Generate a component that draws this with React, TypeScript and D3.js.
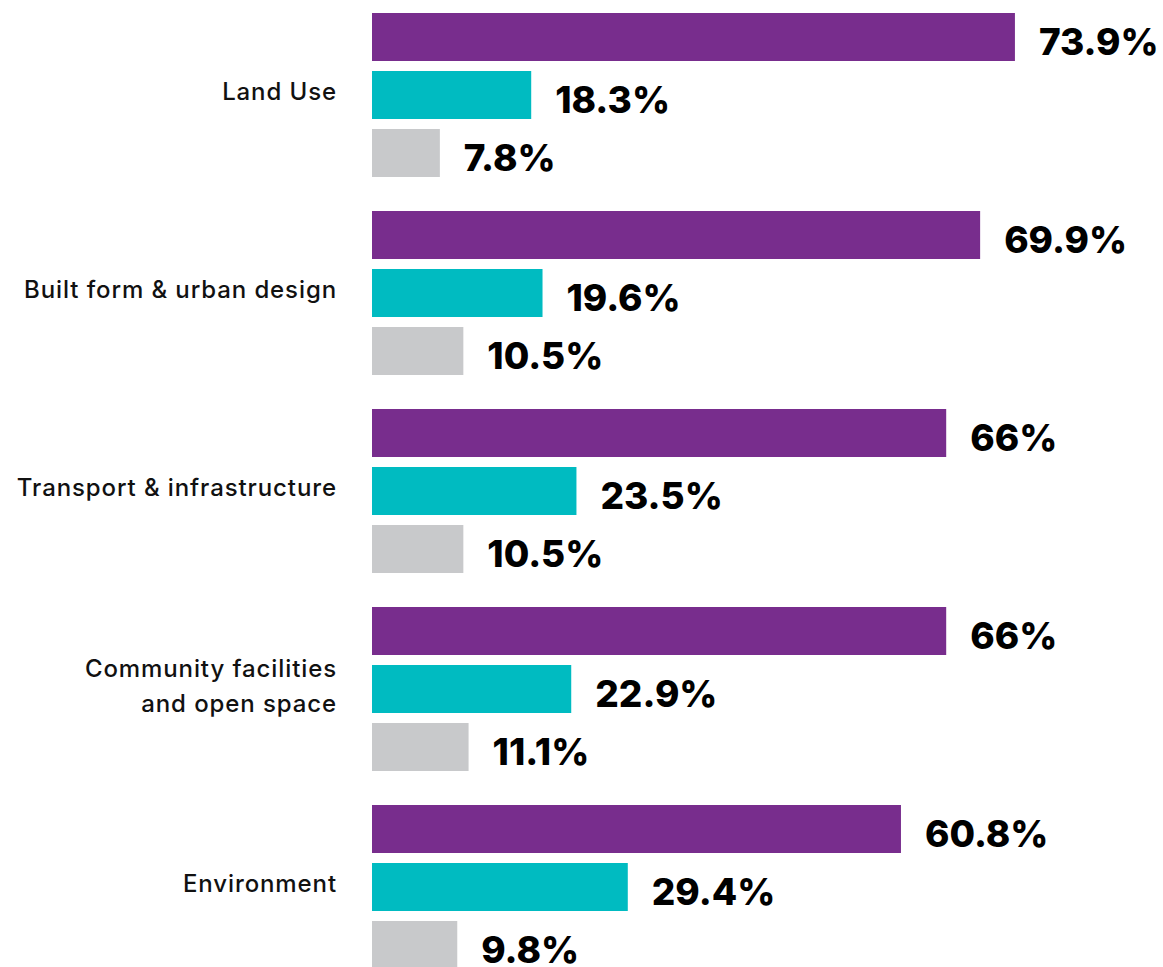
import * as d3 from 'd3';

const categories = [
  ['Land Use'],
  ['Built form & urban design'],
  ['Transport & infrastructure'],
  ['Community facilities', 'and open space'],
  ['Environment'],
];
const seriesKeys = ['purple', 'teal', 'grey'];
const seriesColors = ['#782d8d', '#00bbc1', '#c8c9cb'];

// one row per category, one value per series
const purpleValues = [73.9, 69.9, 66, 66, 60.8];
const tealValues = [18.3, 19.6, 23.5, 22.9, 29.4];
const greyValues = [7.8, 10.5, 10.5, 11.1, 9.8];

const W = 1163;
const H = 967;

export default function App() {
  const values = [purpleValues, tealValues, greyValues];
  const catKeys = categories.map((c) => c.join(' '));

  const x = d3.scaleLinear().domain([0, 100]).range([372, 1242]);
  const y0 = d3
    .scaleBand<string>()
    .domain(catKeys)
    .range([13, 13 + 5 * 198 - 34])
    .paddingInner(34 / 198)
    .paddingOuter(0);
  const y1 = d3
    .scaleBand<string>()
    .domain(seriesKeys)
    .range([0, y0.bandwidth()])
    .paddingInner(10 / 58)
    .paddingOuter(0);

  const fmt = (v: number) => `${v}%`;

  return (
    <svg
      width={W}
      height={H}
      viewBox={`0 0 ${W} ${H}`}
      style={{ position: 'absolute', left: 0, top: 0, background: '#fff' }}
    >
      {categories.map((lines, ci) => {
        const gy = y0(catKeys[ci])!;
        const mid = gy + y0.bandwidth() / 2 - 3;
        return (
          <g key={catKeys[ci]}>
            <text
              x={337}
              y={mid}
              textAnchor="end"
              fontFamily="Inter, sans-serif"
              fontSize={24}
              fontWeight={500}
              letterSpacing={0.9}
              fill="#111"
            >
              {lines.map((l, li) => (
                <tspan
                  key={l}
                  x={337}
                  dy={li === 0 ? (8 - ((lines.length - 1) * 35) / 2) : 35}
                >
                  {l}
                </tspan>
              ))}
            </text>
            {seriesKeys.map((s, si) => {
              const v = values[si][ci];
              const by = gy + y1(s)!;
              return (
                <g key={s}>
                  <rect
                    x={x(0)}
                    y={by}
                    width={x(v) - x(0)}
                    height={y1.bandwidth()}
                    fill={seriesColors[si]}
                  />
                  <text
                    x={x(v) + 24}
                    y={by + y1.bandwidth() - 6}
                    fontFamily="Inter, sans-serif"
                    fontWeight={800}
                    fontSize={37}
                    fill="#000"
                  >
                    {fmt(v)}
                  </text>
                </g>
              );
            })}
          </g>
        );
      })}
    </svg>
  );
}
